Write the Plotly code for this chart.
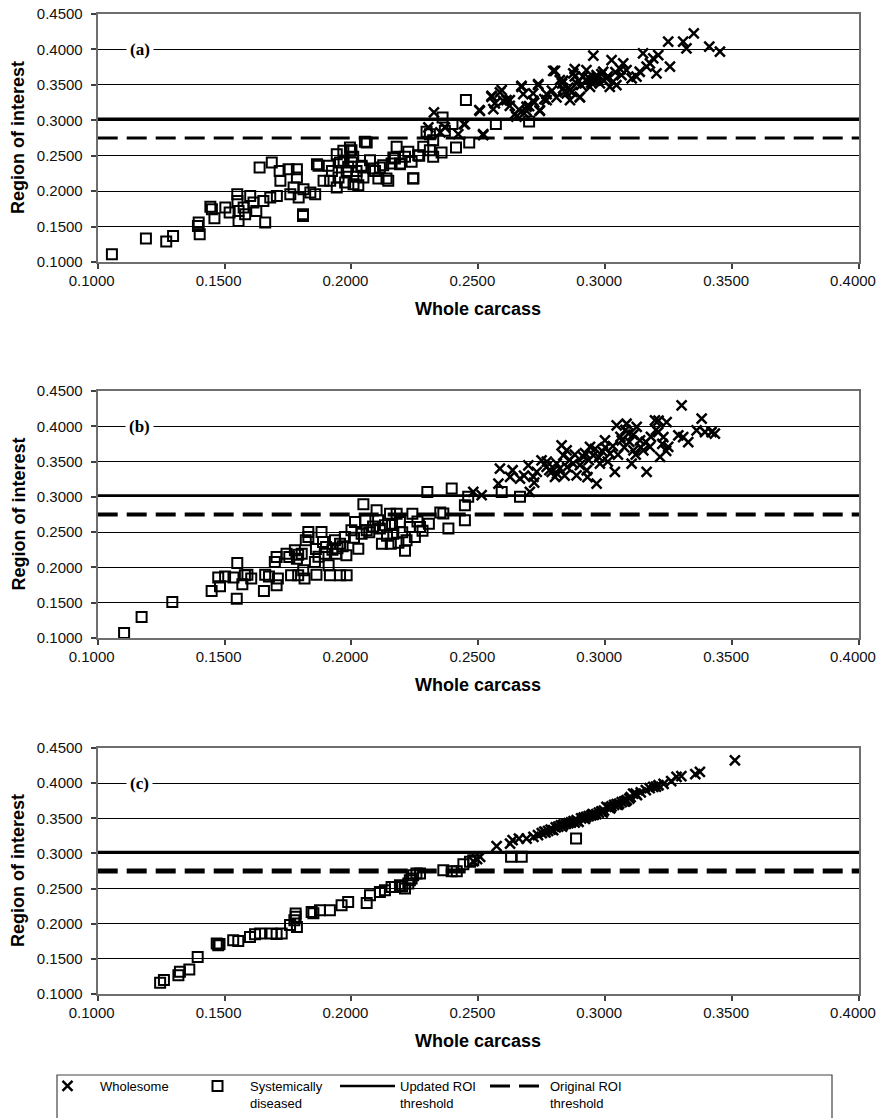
import plotly.graph_objects as go

# ---------------- data ----------------
THRESH_UPDATED = 0.302
THRESH_ORIGINAL = 0.275
X_RANGE = [0.1, 0.4]
Y_RANGE = [0.1, 0.45]
TICK_VALUES = [0.10, 0.15, 0.20, 0.25, 0.30, 0.35, 0.40, 0.45]
PANEL_LABELS = ["(a)", "(b)", "(c)"]
SERIES_NAMES = ["Wholesome", "Systemically<br>diseased", "Updated ROI<br>threshold", "Original ROI<br>threshold"]

# Panel (a)
a_sys_x = [0.1056, 0.1190, 0.1270, 0.1297, 0.1398, 0.1395, 0.1402, 0.1444, 0.1450, 0.1460,
           0.1503, 0.1520, 0.1550, 0.1551, 0.1555, 0.1555, 0.1575, 0.1581, 0.1601, 0.1614,
           0.1638, 0.1625, 0.1653, 0.1660, 0.1680, 0.1686, 0.1706, 0.1717, 0.1720, 0.1752,
           0.1759, 0.1785, 0.1785, 0.1772, 0.1792, 0.1811, 0.1809, 0.1809, 0.1838, 0.1857,
           0.1864, 0.1870, 0.1890, 0.1910, 0.1916, 0.1923, 0.1942, 0.1949, 0.1969, 0.1975,
           0.1995, 0.2002, 0.2008, 0.2000, 0.2007, 0.1987, 0.2027, 0.2020, 0.2053, 0.2040,
           0.2073, 0.2086, 0.2106, 0.2125, 0.2138, 0.2158, 0.2178, 0.2171, 0.2191, 0.2211,
           0.2224, 0.2237, 0.2243, 0.2263, 0.2283, 0.2296, 0.2309, 0.2322, 0.2322, 0.1942,
           0.1955, 0.1968, 0.1981, 0.1994, 0.2020, 0.2040, 0.2047, 0.2060, 0.2093, 0.2112,
           0.2145, 0.2165, 0.2191, 0.2244, 0.2267, 0.2309, 0.2355, 0.2359, 0.2368, 0.2398,
           0.2412, 0.2464, 0.2569, 0.2451, 0.2700]
a_sys_y = [0.1109, 0.1330, 0.1288, 0.1368, 0.1556, 0.1509, 0.1391, 0.1778, 0.1745, 0.1617,
           0.1768, 0.1698, 0.1957, 0.1862, 0.1721, 0.1580, 0.1768, 0.1674, 0.1933, 0.1839,
           0.2333, 0.1721, 0.1862, 0.1556, 0.1910, 0.2404, 0.1933, 0.2286, 0.2145, 0.2310,
           0.1957, 0.2310, 0.2192, 0.2051, 0.1910, 0.2027, 0.1650, 0.1674, 0.1980, 0.1957,
           0.2380, 0.2357, 0.2145, 0.2357, 0.2145, 0.2286, 0.2051, 0.2192, 0.2428, 0.2121,
           0.2569, 0.2404, 0.2098, 0.2578, 0.2484, 0.2343, 0.2084, 0.2202, 0.2696, 0.2343,
           0.2437, 0.2319, 0.2178, 0.2367, 0.2178, 0.2390, 0.2626, 0.2461, 0.2390, 0.2484,
           0.2555, 0.2414, 0.2178, 0.2508, 0.2626, 0.2838, 0.2578, 0.2720, 0.2484, 0.2522,
           0.2404, 0.2569, 0.2286, 0.2616, 0.2286, 0.2357, 0.2192, 0.2687, 0.2286, 0.2333,
           0.2145, 0.2475, 0.2381, 0.2183, 0.2498, 0.2804, 0.2545, 0.3040, 0.2852, 0.2946,
           0.2616, 0.2687, 0.2946, 0.3285, 0.2983]

a_whole_x = [0.2303, 0.2325, 0.2350, 0.2368, 0.2421, 0.2447, 0.2506, 0.2519, 0.2552, 0.2559,
             0.2585, 0.2598, 0.2624, 0.2644, 0.2670, 0.2677, 0.2690, 0.2716, 0.2736, 0.2742,
             0.2769, 0.2795, 0.2808, 0.2834, 0.2860, 0.2880, 0.2900, 0.2926, 0.2953, 0.2966,
             0.2802, 0.2821, 0.2834, 0.2848, 0.2861, 0.2874, 0.2887, 0.2900, 0.2913, 0.2926,
             0.2940, 0.2953, 0.2966, 0.2979, 0.2992, 0.3005, 0.3018, 0.3031, 0.3044, 0.3025,
             0.3071, 0.3064, 0.3084, 0.3104, 0.3123, 0.3136, 0.3149, 0.3163, 0.3176, 0.3189,
             0.3202, 0.3209, 0.3248, 0.3255, 0.3307, 0.3320, 0.3349, 0.3410, 0.3452, 0.2611,
             0.2650, 0.2670, 0.2736, 0.2742, 0.2716, 0.2690, 0.2769, 0.2519, 0.2443, 0.2504,
             0.2552, 0.2592, 0.2565, 0.2624, 0.2830, 0.2855, 0.2870, 0.2895, 0.2905, 0.2935,
             0.2945, 0.2960, 0.2985, 0.2995, 0.3010, 0.3040, 0.3060, 0.2880, 0.2840, 0.2790,
             0.2760, 0.2700, 0.2660, 0.2680, 0.2720]
a_whole_y = [0.2899, 0.3110, 0.2828, 0.2899, 0.2804, 0.2946, 0.3134, 0.2804, 0.3346, 0.3158,
             0.3393, 0.3275, 0.3205, 0.3087, 0.3487, 0.3370, 0.3134, 0.3275, 0.3511, 0.3134,
             0.3370, 0.3699, 0.3322, 0.3558, 0.3417, 0.3723, 0.3322, 0.3558, 0.3911, 0.3605,
             0.3699, 0.3568, 0.3450, 0.3379, 0.3285, 0.3662, 0.3520, 0.3332, 0.3615, 0.3709,
             0.3473, 0.3568, 0.3638, 0.3520, 0.3685, 0.3591, 0.3473, 0.3544, 0.3497, 0.3850,
             0.3803, 0.3638, 0.3709, 0.3591, 0.3615, 0.3685, 0.3944, 0.3756, 0.3803, 0.3874,
             0.3662, 0.3920, 0.4109, 0.3756, 0.4109, 0.4015, 0.4227, 0.4039, 0.3968, 0.3285,
             0.3050, 0.3473, 0.3497, 0.3144, 0.3379, 0.3191, 0.3285, 0.2791, 0.2946, 0.3144,
             0.3332, 0.3426, 0.3238, 0.3285, 0.3520, 0.3460, 0.3400, 0.3560, 0.3500, 0.3600,
             0.3530, 0.3580, 0.3650, 0.3560, 0.3620, 0.3680, 0.3720, 0.3620, 0.3400, 0.3420,
             0.3300, 0.3200, 0.3150, 0.3100, 0.3250]

# Panel (b)
b_sys_x = [0.1104, 0.1173, 0.1294, 0.1449, 0.1482, 0.1475, 0.1502, 0.1535, 0.1550, 0.1548,
           0.1570, 0.1580, 0.1590, 0.1605, 0.1655, 0.1660, 0.1675, 0.1698, 0.1705, 0.1705,
           0.1710, 0.1744, 0.1755, 0.1762, 0.1777, 0.1785, 0.1790, 0.1804, 0.1810, 0.1815,
           0.1820, 0.1830, 0.1830, 0.1856, 0.1862, 0.1882, 0.1888, 0.1895, 0.1900, 0.1915,
           0.1910, 0.1935, 0.1940, 0.1955, 0.1955, 0.1974, 0.1980, 0.1981, 0.2000, 0.2014,
           0.2027, 0.2040, 0.2047, 0.2055, 0.2060, 0.2099, 0.2105, 0.2112, 0.2120, 0.2132,
           0.2152, 0.2155, 0.2165, 0.2178, 0.2191, 0.2211, 0.2217, 0.2230, 0.2240, 0.2250,
           0.2270, 0.2299, 0.2305, 0.2362, 0.2382, 0.2395, 0.2447, 0.2447, 0.2460, 0.2592,
           0.2664, 0.1860, 0.1925, 0.1965, 0.2070, 0.2085, 0.2140, 0.2200, 0.2260, 0.2280,
           0.2185, 0.2160, 0.2010, 0.1945, 0.1870, 0.1790, 0.2350]
b_sys_y = [0.1070, 0.1298, 0.1510, 0.1666, 0.1732, 0.1856, 0.1873, 0.1856, 0.2063, 0.1557,
           0.1762, 0.1888, 0.1896, 0.1842, 0.1666, 0.1896, 0.1873, 0.2077, 0.2148, 0.1747,
           0.1842, 0.2195, 0.2148, 0.1888, 0.2242, 0.2124, 0.1888, 0.2195, 0.1960, 0.1842,
           0.2384, 0.2432, 0.2502, 0.2077, 0.1896, 0.2502, 0.2360, 0.2195, 0.2289, 0.1888,
           0.2030, 0.2384, 0.2195, 0.1888, 0.2337, 0.2432, 0.2171, 0.1888, 0.2526, 0.2644,
           0.2266, 0.2478, 0.2894, 0.2667, 0.2526, 0.2810, 0.2667, 0.2550, 0.2337, 0.2597,
           0.2762, 0.2337, 0.2478, 0.2762, 0.2644, 0.2235, 0.2384, 0.2573, 0.2762, 0.2432,
           0.2573, 0.3068, 0.2620, 0.2763, 0.2551, 0.3117, 0.2669, 0.2881, 0.3000, 0.3070,
           0.3000, 0.2260, 0.2250, 0.2300, 0.2500, 0.2580, 0.2450, 0.2500, 0.2650, 0.2520,
           0.2350, 0.2600, 0.2420, 0.2270, 0.2150, 0.2180, 0.2780]

b_whole_x = [0.2480, 0.2513, 0.2579, 0.2585, 0.2625, 0.2635, 0.2664, 0.2703, 0.2697, 0.2717,
             0.2730, 0.2749, 0.2769, 0.2789, 0.2802, 0.2809, 0.2828, 0.2835, 0.2848, 0.2874,
             0.2887, 0.2914, 0.2927, 0.2940, 0.2953, 0.2966, 0.2979, 0.2999, 0.3019, 0.3038,
             0.3045, 0.3065, 0.3084, 0.3091, 0.3104, 0.3111, 0.3124, 0.3137, 0.3150, 0.3163,
             0.3176, 0.3196, 0.3209, 0.3216, 0.3229, 0.3242, 0.3248, 0.3288, 0.3301, 0.3307,
             0.3327, 0.3360, 0.3380, 0.3393, 0.3419, 0.3432, 0.2780, 0.2810, 0.2820, 0.2840,
             0.2860, 0.2880, 0.2900, 0.2920, 0.2935, 0.2960, 0.2975, 0.2990, 0.3000, 0.3010,
             0.3030, 0.3050, 0.3060, 0.3075, 0.3080, 0.3095, 0.3110, 0.3120, 0.3140, 0.3160,
             0.3180, 0.3200, 0.3210, 0.3225, 0.3240, 0.2770, 0.2850, 0.2680, 0.2720, 0.2930]
b_whole_y = [0.3070, 0.3023, 0.3188, 0.3400, 0.3282, 0.3377, 0.3259, 0.3070, 0.3447, 0.3282,
             0.3353, 0.3518, 0.3424, 0.3353, 0.3282, 0.3471, 0.3730, 0.3589, 0.3660, 0.3471,
             0.3306, 0.3565, 0.3377, 0.3707, 0.3589, 0.3188, 0.3471, 0.3801, 0.3612, 0.3353,
             0.4013, 0.3801, 0.4036, 0.3895, 0.3471, 0.3660, 0.3990, 0.3801, 0.3660, 0.3353,
             0.3707, 0.4084, 0.3919, 0.3565, 0.3848, 0.4060, 0.3707, 0.3872, 0.4296, 0.3848,
             0.3777, 0.3942, 0.4107, 0.3919, 0.3919, 0.3895, 0.3380, 0.3330, 0.3400, 0.3300,
             0.3520, 0.3600, 0.3450, 0.3620, 0.3520, 0.3680, 0.3560, 0.3640, 0.3700, 0.3500,
             0.3720, 0.3600, 0.3850, 0.3700, 0.3950, 0.3780, 0.3880, 0.3600, 0.3700, 0.3780,
             0.3850, 0.3950, 0.4080, 0.3750, 0.3650, 0.3500, 0.3420, 0.3300, 0.3200, 0.3280]

# Panel (c)
c_sys_x = [0.1246, 0.1261, 0.1318, 0.1324, 0.1361, 0.1394, 0.1469, 0.1475, 0.1480, 0.1534,
           0.1554, 0.1600, 0.1620, 0.1640, 0.1685, 0.1705, 0.1725, 0.1758, 0.1775, 0.1780,
           0.1785, 0.1780, 0.1843, 0.1850, 0.1876, 0.1915, 0.1961, 0.1987, 0.2060, 0.2073,
           0.2112, 0.2132, 0.2158, 0.2171, 0.2191, 0.2211, 0.2224, 0.2237, 0.2243, 0.2256,
           0.2270, 0.2362, 0.2395, 0.2415, 0.2441, 0.2467, 0.2480, 0.2629, 0.2671, 0.2885,
           0.2200, 0.2230]
c_sys_y = [0.1160, 0.1198, 0.1268, 0.1315, 0.1348, 0.1528, 0.1717, 0.1694, 0.1710, 0.1765,
           0.1755, 0.1812, 0.1850, 0.1860, 0.1860, 0.1855, 0.1860, 0.1980, 0.2050, 0.2145,
           0.1955, 0.2100, 0.2168, 0.2150, 0.2190, 0.2190, 0.2262, 0.2310, 0.2296, 0.2405,
           0.2452, 0.2475, 0.2523, 0.2523, 0.2547, 0.2500, 0.2571, 0.2642, 0.2689, 0.2713,
           0.2713, 0.2762, 0.2748, 0.2748, 0.2847, 0.2880, 0.2904, 0.2951, 0.2951, 0.3212,
           0.2530, 0.2620]

c_whole_x = [0.2480, 0.2495, 0.2507, 0.2572, 0.2625, 0.2635, 0.2660, 0.2690, 0.2717, 0.2735,
             0.2750, 0.2765, 0.2775, 0.2785, 0.2795, 0.2805, 0.2815, 0.2825, 0.2835, 0.2845,
             0.2855, 0.2865, 0.2875, 0.2887, 0.2895, 0.2905, 0.2915, 0.2925, 0.2935, 0.2945,
             0.2955, 0.2965, 0.2975, 0.2985, 0.2995, 0.3005, 0.3015, 0.3025, 0.3035, 0.3045,
             0.3055, 0.3065, 0.3075, 0.3085, 0.3095, 0.3110, 0.3125, 0.3140, 0.3160, 0.3175,
             0.3189, 0.3200, 0.3210, 0.3230, 0.3260, 0.3281, 0.3300, 0.3355, 0.3373, 0.3511,
             0.2760, 0.2830, 0.2880, 0.2920, 0.2950, 0.2990, 0.3020, 0.3050, 0.3080, 0.3100,
             0.3120]
c_whole_y = [0.2890, 0.2920, 0.2951, 0.3103, 0.3140, 0.3190, 0.3212, 0.3212, 0.3235, 0.3260,
             0.3290, 0.3300, 0.3320, 0.3340, 0.3330, 0.3370, 0.3380, 0.3400, 0.3410, 0.3420,
             0.3430, 0.3440, 0.3460, 0.3472, 0.3450, 0.3500, 0.3510, 0.3520, 0.3530, 0.3540,
             0.3550, 0.3560, 0.3580, 0.3600, 0.3610, 0.3662, 0.3650, 0.3670, 0.3690, 0.3700,
             0.3710, 0.3730, 0.3740, 0.3760, 0.3780, 0.3851, 0.3830, 0.3870, 0.3900, 0.3930,
             0.3946, 0.3950, 0.3970, 0.3990, 0.4030, 0.4088, 0.4100, 0.4130, 0.4159, 0.4325,
             0.3310, 0.3380, 0.3440, 0.3490, 0.3560, 0.3580, 0.3640, 0.3690, 0.3740, 0.3800,
             0.3850]

panels = [
    (a_whole_x, a_whole_y, a_sys_x, a_sys_y),
    (b_whole_x, b_whole_y, b_sys_x, b_sys_y),
    (c_whole_x, c_whole_y, c_sys_x, c_sys_y),
]

# ---------------- layout geometry (screen pixels) ----------------
OFF = 0   # body margin is removed by the post script below
W, H = 880 - OFF, 1118 - OFF
PX_LEFT, PX_RIGHT = 97.7 - OFF, 859.0 - OFF
PANEL_PX = [(14 - OFF, 262 - OFF), (391 - OFF, 638 - OFF), (748 - OFF, 994 - OFF)]
XTITLE_PX = [309 - OFF, 685 - OFF, 1041 - OFF]
DASH_WIDTH = [3, 4, 5]

fig = go.Figure()

for i, (wx, wy, sx, sy) in enumerate(panels):
    n = "" if i == 0 else str(i + 1)
    xa, ya = "x" + n, "y" + n
    first = (i == 0)
    fig.add_trace(go.Scatter(
        x=X_RANGE, y=[THRESH_UPDATED, THRESH_UPDATED], mode="lines",
        line=dict(color="black", width=2.5), name=SERIES_NAMES[2],
        showlegend=first, legendrank=3, xaxis=xa, yaxis=ya, hoverinfo="skip"))
    fig.add_trace(go.Scatter(
        x=X_RANGE, y=[THRESH_ORIGINAL, THRESH_ORIGINAL], mode="lines",
        line=dict(color="black", width=DASH_WIDTH[i], dash="20px,9px"), name=SERIES_NAMES[3],
        showlegend=first, legendrank=4, xaxis=xa, yaxis=ya, hoverinfo="skip"))
    fig.add_trace(go.Scatter(
        x=sx, y=sy, mode="markers", name=SERIES_NAMES[1],
        marker=dict(symbol="square-open", size=10, color="black", line=dict(width=2, color="black")),
        showlegend=first, legendrank=2, xaxis=xa, yaxis=ya))
    fig.add_trace(go.Scatter(
        x=wx, y=wy, mode="markers", name=SERIES_NAMES[0],
        marker=dict(symbol="x-thin-open", size=10, color="black", line=dict(width=2.5, color="black")),
        showlegend=first, legendrank=1, xaxis=xa, yaxis=ya))

layout = dict(
    template="none",
    width=W, height=H,
    margin=dict(l=0, r=0, t=0, b=0, autoexpand=False),
    paper_bgcolor="white", plot_bgcolor="white",
    font=dict(family="Arial, Liberation Sans, sans-serif", color="black"),
    showlegend=True,
    legend=dict(
        orientation="h", x=35 / W, y=1 - (1071 - OFF) / H, xanchor="left", yanchor="top",
        font=dict(family="Arial, Liberation Sans, sans-serif", size=13, color="black"),
        itemwidth=55, entrywidth=80, bgcolor="rgba(0,0,0,0)", borderwidth=0,
        tracegroupgap=0, valign="top",
    ),
    annotations=[], shapes=[],
)

for i, (top, bot) in enumerate(PANEL_PX):
    n = "" if i == 0 else str(i + 1)
    ydom = [1 - bot / H, 1 - top / H]
    layout["xaxis" + n] = dict(
        domain=[PX_LEFT / W, PX_RIGHT / W], anchor="y" + n, range=X_RANGE, automargin=False,
        tickvals=TICK_VALUES[:-1], tickformat=".4f", showgrid=False, zeroline=False,
        showline=True, linecolor="#6e6e6e", linewidth=2, mirror=True,
        ticks="outside", ticklen=5, tickwidth=1.5, tickcolor="#404040",
        tickfont=dict(size=15, color="#111111"), ticklabeloverflow="allow",
        ticklabelshift=-6, ticklabelstandoff=-1,
    )
    layout["yaxis" + n] = dict(
        domain=ydom, anchor="x" + n, range=Y_RANGE, automargin=False,
        tickvals=TICK_VALUES, tickformat=".4f", showgrid=True, gridcolor="black", gridwidth=1,
        zeroline=False, showline=True, linecolor="#6e6e6e", linewidth=2, mirror=True,
        ticks="outside", ticklen=5, tickwidth=1.5, tickcolor="#404040",
        tickfont=dict(size=15, color="#111111"), ticklabelstandoff=5, ticklabeloverflow="allow",
    )
    # panel label
    layout["annotations"].append(dict(
        x=0.1165, y=0.4, xref="x" + n, yref="y" + n, text="<b>" + PANEL_LABELS[i] + "</b>",
        xanchor="center", yanchor="middle",
        showarrow=False, font=dict(family="Liberation Serif, Times New Roman, serif", size=17, color="black"),
        bgcolor="white", borderpad=3))
    # axis titles
    layout["annotations"].append(dict(
        x=(18 - OFF) / W, y=1 - (top + bot) / 2 / H, xref="paper", yref="paper",
        xanchor="center", yanchor="middle", text="<b>Region of interest</b>",
        textangle=-90, showarrow=False, font=dict(size=18, color="black")))
    layout["annotations"].append(dict(
        x=(PX_LEFT + PX_RIGHT) / 2 / W, y=1 - XTITLE_PX[i] / H, xref="paper", yref="paper",
        xanchor="center", yanchor="middle",
        text="<b>Whole carcass</b>", showarrow=False, font=dict(size=18, color="black")))

# legend frame
layout["shapes"].append(dict(
    type="rect", xref="paper", yref="paper", x0=(57 - OFF) / W, x1=(832 - OFF) / W,
    y0=-0.02, y1=1 - (1075 - OFF) / H,
    line=dict(color="#444444", width=1.2), fillcolor="rgba(0,0,0,0)"))

fig.update_layout(**layout)
fig.write_html(
    "out.html",
    config={"displayModeBar": False},
    post_script="document.body.style.margin='0';document.body.style.overflow='hidden';",
)
